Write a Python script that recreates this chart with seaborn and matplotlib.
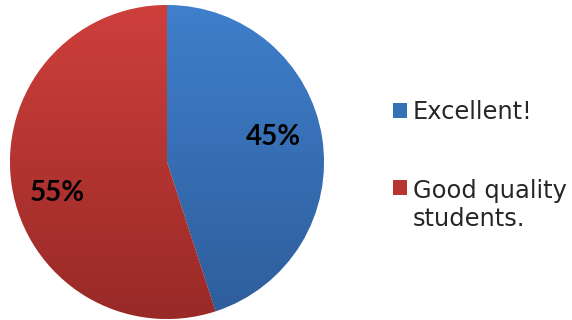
import numpy as np
import matplotlib
matplotlib.use("Agg")
import matplotlib.pyplot as plt
import seaborn as sns
from matplotlib.patches import Patch, Rectangle
from matplotlib.legend_handler import HandlerPatch
from matplotlib.colors import LinearSegmentedColormap

sns.set_theme(style="white")
plt.rcParams['font.family'] = ['Lato', 'DejaVu Sans']

categories = ["Excellent!", "Good quality\nstudents."]
values = [45, 55]
top_colors = ["#3f7fcc", "#ce3f3c"]
bottom_colors = ["#2e5d9b", "#982a27"]
mid_colors = ["#3670b7", "#b83532"]

W, H = 572, 320
fig = plt.figure(figsize=(W / 100, H / 100), dpi=100)
cx, cy, r = 167, 162, 157
ax = fig.add_axes([(cx - r) / W, (H - cy - r) / H, 2 * r / W, 2 * r / H])

wedges, texts, autotexts = ax.pie(
    values, colors=mid_colors, startangle=90, counterclock=False,
    autopct=lambda p: f"{p:.0f}%", pctdistance=0.7,
    textprops=dict(fontsize=20, fontweight="bold", color="black"),
    wedgeprops=dict(linewidth=0.6, edgecolor="white"),
)

grad = np.linspace(0, 1, 256).reshape(-1, 1)
for w, tc, bc in zip(wedges, top_colors, bottom_colors):
    cmap = LinearSegmentedColormap.from_list("g", [tc, bc])
    im = ax.imshow(grad, cmap=cmap, extent=(-1, 1, -1, 1), aspect="auto",
                   zorder=w.get_zorder() + 0.1, origin="upper")
    im.set_clip_path(w)
label_pos = [(0.675, 0.16), (-0.70, -0.195)]
for t, p in zip(autotexts, label_pos):
    t.set_position(p)
    t.set_zorder(5)
ax.set_xlim(-1, 1)
ax.set_ylim(-1, 1)
ax.set_aspect("equal")
ax.axis("off")


def first_line_patch(legend, orig_handle, xdescent, ydescent, width, height, fontsize):
    # align the key with the first line of a two-line label
    return Rectangle((-xdescent, -ydescent + 0.78 * fontsize), width, height)


handles = [Patch(facecolor=c, edgecolor="none") for c in mid_colors]
leg = fig.legend(handles, categories, loc="upper left",
                 bbox_to_anchor=(393 / W, 1 - 100 / H), frameon=False,
                 prop=dict(family=["DejaVu Sans"], size=17.4),
                 handlelength=0.58, handleheight=0.58,
                 handletextpad=0.25, labelspacing=2.28, borderpad=0, borderaxespad=0,
                 handler_map={handles[1]: HandlerPatch(patch_func=first_line_patch)})
for t in leg.get_texts():
    t.set_linespacing(1.2)

fig.savefig("out.png", dpi=100)
